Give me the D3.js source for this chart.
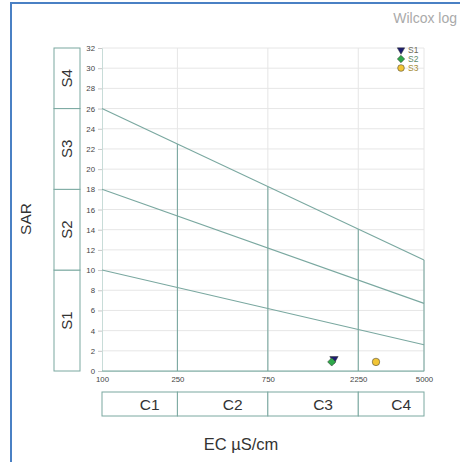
<!DOCTYPE html>
<html>
<head>
<meta charset="utf-8">
<script src="https://cdn.jsdelivr.net/npm/d3@7"></script>
<style>
  body { margin: 0; background: #fff; }
  text { font-family: "Liberation Sans", Arial, sans-serif; }
</style>
</head>
<body>
<div id="chart"></div>
<script>
// boundary lines of the Wilcox diagram (SAR at EC = 100 and EC = 5000)
const boundaryLines = [
  {ec: [100, 5000], sar: [26, 11]},
  {ec: [100, 5000], sar: [18, 6.7]},
  {ec: [100, 5000], sar: [10, 2.6]}
];
const ecTicks = [100, 250, 750, 2250, 5000];
const sarTicks = d3.range(0, 33, 2);
const sClasses = [
  {name: "S1", from: 0, to: 10},
  {name: "S2", from: 10, to: 18},
  {name: "S3", from: 18, to: 26},
  {name: "S4", from: 26, to: 32}
];
const cClasses = [
  {name: "C1", from: 100, to: 250},
  {name: "C2", from: 250, to: 750},
  {name: "C3", from: 750, to: 2250},
  {name: "C4", from: 2250, to: 5000}
];
const samples = [
  {name: "S1", ec: 1675, sar: 1.2},
  {name: "S2", ec: 1630, sar: 0.9},
  {name: "S3", ec: 2790, sar: 0.9}
];

const width = 460, height = 462;
const teal = "#7aa8a0";

const svg = d3.select("#chart").append("svg")
  .attr("width", width)
  .attr("height", height);

// blue frame (runs off the right and bottom edge)
svg.append("rect")
  .attr("x", 11).attr("y", 3)
  .attr("width", 500).attr("height", 500)
  .attr("fill", "none")
  .attr("stroke", "#4a80c4")
  .attr("stroke-width", 2);

svg.append("text")
  .attr("x", 457).attr("y", 23)
  .attr("text-anchor", "end")
  .attr("font-size", 14)
  .attr("fill", "#aaaaaa")
  .text("Wilcox log");

const x = d3.scaleLog().domain([100, 5000]).range([102, 424]);
const y = d3.scaleLinear().domain([0, 32]).range([371, 48]);

// sar on the top boundary line for a given ec
const upper = boundaryLines[0];
const upperLine = d3.scaleLog().domain(upper.ec).range(upper.sar);

// grid
const grid = svg.append("g");
grid.selectAll("line.h")
  .data(sarTicks.filter(d => d > 0))
  .join("line")
  .attr("class", "h")
  .attr("x1", x(100)).attr("x2", x(5000))
  .attr("y1", d => y(d)).attr("y2", d => y(d))
  .attr("stroke", "#e6e6e6");
grid.selectAll("line.v")
  .data(ecTicks.slice(1))
  .join("line")
  .attr("class", "v")
  .attr("x1", d => x(d)).attr("x2", d => x(d))
  .attr("y1", y(0)).attr("y2", y(32))
  .attr("stroke", "#e6e6e6");

// axes
const yAxis = svg.append("g")
  .attr("transform", `translate(${x(100)},0)`)
  .call(d3.axisLeft(y).tickValues(sarTicks).tickSize(4).tickPadding(3));
const xAxis = svg.append("g")
  .attr("transform", `translate(0,${y(0)})`)
  .call(d3.axisBottom(x).tickValues(ecTicks).tickFormat(d3.format("d")).tickSize(0).tickPadding(5));
[yAxis, xAxis].forEach(a => {
  a.select(".domain").attr("stroke", "#c8dcd8");
  a.selectAll(".tick line").attr("stroke", "#c8c8c8");
  a.selectAll("text").attr("font-size", 7.8).attr("fill", "#444")
    .attr("font-family", "\"Liberation Sans\", Arial, sans-serif");
});

// class boundaries
const lines = svg.append("g").attr("stroke", teal).attr("stroke-width", 1.1).attr("fill", "none");
lines.selectAll("line.b")
  .data(boundaryLines)
  .join("line")
  .attr("class", "b")
  .attr("x1", d => x(d.ec[0])).attr("x2", d => x(d.ec[1]))
  .attr("y1", d => y(d.sar[0])).attr("y2", d => y(d.sar[1]));
lines.selectAll("line.c")
  .data(ecTicks.slice(1))
  .join("line")
  .attr("class", "c")
  .attr("x1", d => x(d)).attr("x2", d => x(d))
  .attr("y1", y(0)).attr("y2", d => y(upperLine(d)));
lines.append("line")
  .attr("x1", x(100)).attr("x2", x(5000))
  .attr("y1", y(0)).attr("y2", y(0));

// S boxes on the left
const sBox = svg.append("g");
sBox.selectAll("rect")
  .data(sClasses)
  .join("rect")
  .attr("x", 54).attr("width", 26)
  .attr("y", d => y(d.to)).attr("height", d => y(d.from) - y(d.to))
  .attr("fill", "#fff").attr("stroke", teal);
sBox.selectAll("text")
  .data(sClasses)
  .join("text")
  .attr("transform", d => `translate(72,${(y(d.from) + y(d.to)) / 2}) rotate(-90)`)
  .attr("text-anchor", "middle")
  .attr("font-size", 15)
  .attr("fill", "#333")
  .text(d => d.name);

// C boxes below
const cBox = svg.append("g");
cBox.selectAll("rect")
  .data(cClasses)
  .join("rect")
  .attr("x", d => x(d.from)).attr("width", d => x(d.to) - x(d.from))
  .attr("y", 392).attr("height", 24)
  .attr("fill", "#fff").attr("stroke", teal);
cBox.selectAll("text")
  .data(cClasses)
  .join("text")
  .attr("x", d => (x(d.from) + x(d.to)) / 2 + 10)
  .attr("y", 410)
  .attr("text-anchor", "middle")
  .attr("font-size", 15.5)
  .attr("fill", "#333")
  .text(d => d.name);

// axis titles
svg.append("text")
  .attr("x", 241).attr("y", 450)
  .attr("text-anchor", "middle")
  .attr("font-size", 16.5)
  .attr("fill", "#333")
  .text("EC µS/cm");
svg.append("text")
  .attr("transform", "translate(31,219) rotate(-90)")
  .attr("text-anchor", "middle")
  .attr("font-size", 15.5)
  .attr("fill", "#333")
  .text("SAR");

// markers
const styles = {
  S1: {type: d3.symbolTriangle, fill: "#1c1c70", rotate: 180, size: 30, text: "#6b6b58"},
  S2: {type: d3.symbolSquare, fill: "#2ea84a", rotate: 45, size: 34, text: "#5f8a6a"},
  S3: {type: d3.symbolCircle, fill: "#f2c535", rotate: 0, size: 44, text: "#a58c35"}
};
const sym = d => d3.symbol().type(styles[d.name].type).size(styles[d.name].size)();

svg.append("g").selectAll("path")
  .data(samples)
  .join("path")
  .attr("transform", d => `translate(${x(d.ec)},${y(d.sar)}) rotate(${styles[d.name].rotate})`)
  .attr("d", sym)
  .attr("fill", d => styles[d.name].fill)
  .attr("stroke", "#333")
  .attr("stroke-width", 0.5);

// legend
const legend = svg.append("g").selectAll("g")
  .data(samples)
  .join("g")
  .attr("transform", (d, i) => `translate(401,${50 + i * 9})`);
legend.append("path")
  .attr("d", d => d3.symbol().type(styles[d.name].type).size(styles[d.name].size * 0.8)())
  .attr("transform", d => `rotate(${styles[d.name].rotate})`)
  .attr("fill", d => styles[d.name].fill)
  .attr("stroke", "#333")
  .attr("stroke-width", 0.5);
legend.append("text")
  .attr("x", 7).attr("y", 3)
  .attr("font-size", 8.5)
  .attr("fill", d => styles[d.name].text)
  .text(d => d.name);
</script>
</body>
</html>
